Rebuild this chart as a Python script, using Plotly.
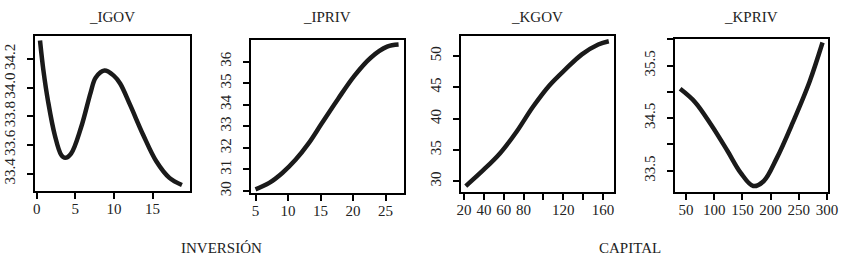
import plotly.graph_objects as go

W, H = 850, 260

# ---- data ----
igov_x = [0.43, 0.85, 1.49, 2.34, 3.18, 3.69, 4.45, 5.73, 7.0, 7.63, 8.78, 9.97, 10.8, 12.09, 13.79, 15.48, 17.18, 18.8]
igov_y = [34.33, 34.13, 33.90, 33.67, 33.53, 33.51, 33.54, 33.72, 33.97, 34.07, 34.12, 34.085, 34.03, 33.88, 33.67, 33.486, 33.37, 33.32]

ipriv_x = [5.0, 7.11, 9.12, 11.15, 13.16, 15.17, 17.69, 20.2, 22.72, 25.24, 27.0]
ipriv_y = [30.08, 30.38, 30.84, 31.45, 32.21, 33.13, 34.27, 35.34, 36.18, 36.69, 36.79]

kgov_x = [21.7, 39.8, 56.3, 72.9, 89.3, 105.8, 122.4, 138.8, 155.3, 165.9]
kgov_y = [29.21, 31.83, 34.47, 37.9, 41.85, 45.26, 47.9, 50.27, 51.85, 52.37]

kpriv_x = [39.5, 65.7, 94.8, 123.9, 147.0, 169.2, 187.6, 211.0, 239.9, 269.0, 292.2]
kpriv_y = [35.06, 34.81, 34.37, 33.87, 33.46, 33.21, 33.30, 33.74, 34.43, 35.19, 35.94]

titles = ["_IGOV", "_IPRIV", "_KGOV", "_KPRIV"]

igov_xticks = [0, 5, 10, 15]
igov_yticks = [33.4, 33.6, 33.8, 34.0, 34.2]
igov_ylabels = ["33.4", "33.6", "33.8", "34.0", "34.2"]
ipriv_xticks = [5, 10, 15, 20, 25]
ipriv_yticks = [30, 31, 32, 33, 34, 35, 36]
kgov_xticks = [20, 40, 60, 80, 100, 120, 140, 160]
kgov_xlabels = ["20", "40", "60", "80", "", "120", "", "160"]
kgov_yticks = [30, 35, 40, 45, 50]
kpriv_xticks = [50, 100, 150, 200, 250, 300]
kpriv_yticks = [33.5, 34.0, 34.5, 35.0, 35.5, 36.0]
kpriv_ylabels = ["33.5", "", "34.5", "", "35.5", ""]

group_labels = ["INVERSIÓN", "CAPITAL"]

# ---- layout (pixel boxes) ----
boxes = [
    (31.7, 189.0, 36.7, 193.0),
    (251.0, 406.7, 40.7, 195.7),
    (465.0, 620.7, 36.7, 194.0),
    (682.7, 838.3, 39.3, 194.0),
]
xranges = [[-0.2, 19.8], [4.24, 27.76], [16.7, 170.9], [29.8, 301.0]]
yranges = [[33.28, 34.36], [29.89, 36.99], [28.31, 53.16], [33.1, 36.01]]

series = [(igov_x, igov_y), (ipriv_x, ipriv_y), (kgov_x, kgov_y), (kpriv_x, kpriv_y)]
xt = [(igov_xticks, [str(v) for v in igov_xticks]),
      (ipriv_xticks, [str(v) for v in ipriv_xticks]),
      (kgov_xticks, kgov_xlabels),
      (kpriv_xticks, [str(v) for v in kpriv_xticks])]
yt = [(igov_yticks, igov_ylabels),
      (ipriv_yticks, [str(v) for v in ipriv_yticks]),
      (kgov_yticks, [str(v) for v in kgov_yticks]),
      (kpriv_yticks, kpriv_ylabels)]

FONT = "Liberation Serif"
TXT = "#222222"

fig = go.Figure()
layout = dict(
    width=W, height=H,
    margin=dict(l=0, r=0, t=0, b=0),
    paper_bgcolor="white", plot_bgcolor="white",
    showlegend=False,
    font=dict(family=FONT, size=15, color=TXT),
)
annotations = []
for i, ((xs, ys), (x0, x1, y0, y1)) in enumerate(zip(series, boxes)):
    n = "" if i == 0 else str(i + 1)
    fig.add_trace(go.Scatter(
        x=xs, y=ys, mode="lines",
        line=dict(color="#1a1a1a", width=4.5, shape="spline", smoothing=1.0),
        xaxis="x" + n, yaxis="y" + n, hoverinfo="skip"))
    axcommon = dict(showline=True, mirror=True, linecolor="black", linewidth=2,
                    ticks="outside", ticklen=6, tickwidth=2, tickcolor="black",
                    showgrid=False, zeroline=False,
                    tickfont=dict(family=FONT, size=15, color=TXT))
    layout["xaxis" + n] = dict(domain=[x0 / W, x1 / W], range=xranges[i],
                               anchor="y" + n, tickmode="array",
                               tickvals=xt[i][0], ticktext=xt[i][1],
                               tickangle=0, ticklabelstandoff=-3, **axcommon)
    layout["yaxis" + n] = dict(domain=[1 - y1 / H, 1 - y0 / H], range=yranges[i],
                               anchor="x" + n, tickmode="array",
                               tickvals=yt[i][0], ticktext=yt[i][1],
                               tickangle=-90, ticklabelstandoff=6, **axcommon)
    annotations.append(dict(text=titles[i], xref="paper", yref="paper",
                            x=(x0 + x1) / 2 / W, y=1 - 17 / H,
                            xanchor="center", yanchor="middle", showarrow=False,
                            font=dict(family=FONT, size=15, color=TXT)))

for lbl, cx in zip(group_labels, [221, 637]):
    annotations.append(dict(text=lbl, xref="paper", yref="paper",
                            x=cx / W, y=0, xanchor="center", yanchor="bottom",
                            borderpad=0, showarrow=False,
                            font=dict(family=FONT, size=15, color=TXT)))
layout["annotations"] = annotations
fig.update_layout(**layout)
fig.write_html(
    "out.html",
    config={"displayModeBar": False, "staticPlot": True},
    post_script="document.body.style.margin='0';document.body.style.overflow='hidden';",
)
